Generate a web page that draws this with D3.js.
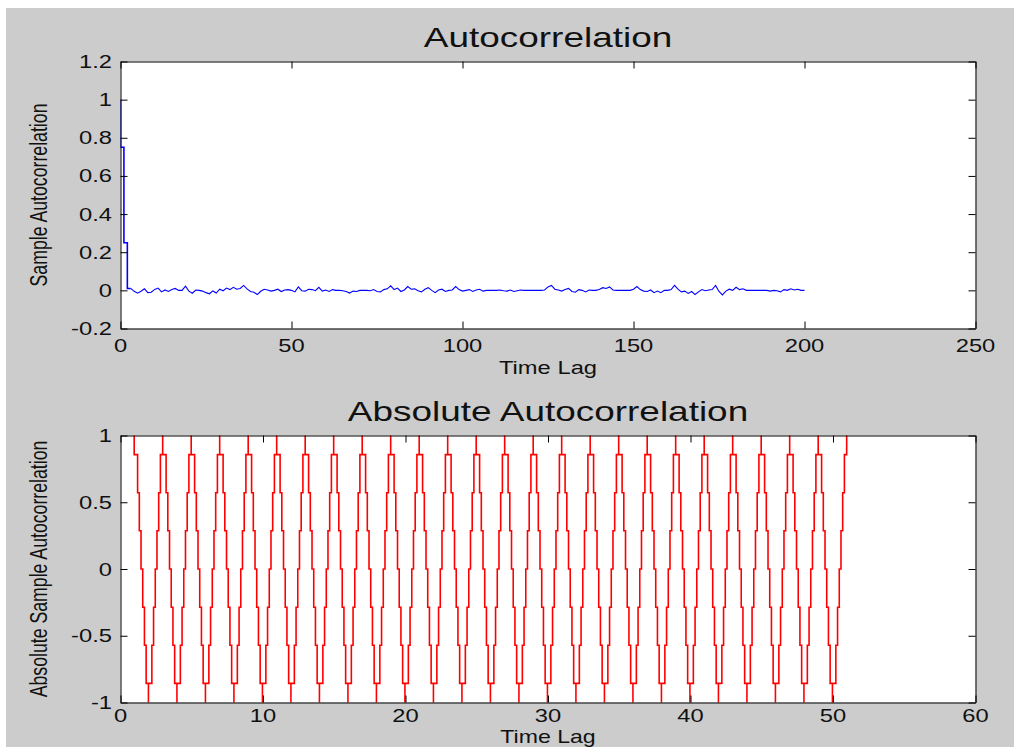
<!DOCTYPE html>
<html>
<head>
<meta charset="utf-8">
<script src="https://cdn.jsdelivr.net/npm/d3@7"></script>
<style>
  html, body { margin: 0; padding: 0; background: #ffffff; }
  svg { display: block; }
  text { font-family: "Liberation Sans", Arial, sans-serif; fill: #111; }
</style>
</head>
<body>
<svg id="chart" width="1014" height="747"></svg>
<script>
// ---------------- DATA ----------------
// Top panel: sample autocorrelation
const headLags   = [0, 1, 2, 3];
const headValues = [1, 0.75, 0.25, 0.01];
const noiseStartLag = 3;
const noiseValues = [
  0.01,
  -0.005, -0.015, -0.005, 0.008, -0.012, -0.01, 0.005, 0.012, -0.008, 0.002,
  -0.006, 0.004, 0.01, 0.0, 0.0, 0.022, -0.004, -0.015, 0.002, 0.0,
  -0.004, -0.012, -0.018, -0.003, -0.014, 0.006, -0.002, 0.012, 0.004, 0.016,
  0.006, 0.01, 0.026, 0.008, -0.006, -0.01, -0.022, -0.005, 0.006, 0.002,
  -0.004, 0.0, 0.006, -0.006, 0.002, 0.004, 0.0, -0.008, 0.018, -0.002,
  -0.004, 0.006, 0.004, -0.002, 0.016, -0.004, 0.002, -0.006, 0.004, 0.0,
  0.0, -0.002, -0.006, -0.014, -0.004, -0.006, 0.0, 0.0, 0.0, -0.002,
  0.004, -0.006, -0.008, 0.004, 0.008, 0.024, 0.004, 0.012, -0.006, 0.002,
  0.02, 0.006, 0.008, -0.002, -0.008, 0.006, 0.014, 0.0, -0.012, 0.002,
  0.006, -0.006, 0.0, 0.002, 0.02, 0.004, -0.004, 0.0, 0.004, -0.006,
  0.002, 0.006, -0.004, 0.0, 0.0, 0.0, 0.0, 0.002, -0.002, -0.004,
  0.002, -0.006, -0.002, 0.002, 0.0, 0.0, 0.0, 0.0, 0.0, 0.0,
  0.002, 0.018, 0.026, 0.006, 0.002, -0.004, 0.004, 0.01, -0.006, -0.01,
  0.004, 0.0, -0.008, 0.002, 0.0, 0.0, 0.004, 0.014, 0.01, 0.018,
  0.002, 0.0, 0.0, 0.0, 0.0, 0.0, 0.006, 0.02, 0.004, -0.004,
  -0.006, 0.002, -0.012, -0.004, -0.012, 0.0, 0.0, 0.004, 0.026, 0.006,
  -0.008, -0.004, -0.016, -0.006, -0.022, -0.008, 0.004, -0.002, 0.002, 0.004,
  0.026, -0.006, -0.024, -0.004, 0.006, 0.0, 0.016, 0.004, 0.008, 0.0,
  0.0, 0.0, 0.0, 0.0, 0.0, 0.0, -0.004, 0.0, -0.002, -0.008,
  0.004, 0.0, 0.008, 0.002, 0.006, 0.0, 0.0
];
const topXTicks = [0, 50, 100, 150, 200, 250];
const topXTickLabels = ["0", "50", "100", "150", "200", "250"];
const topYTicks = [-0.2, 0, 0.2, 0.4, 0.6, 0.8, 1, 1.2];
const topYTickLabels = ["-0.2", "0", "0.2", "0.4", "0.6", "0.8", "1", "1.2"];

// Bottom panel: absolute autocorrelation (stepped zig-zag)
const peakLags   = [1, 3, 5, 7, 9, 11, 13, 15, 17, 19, 21, 23, 25, 27, 29, 31, 33, 35, 37, 39, 41, 43, 45, 47, 49, 51];
const troughLags = [2, 4, 6, 8, 10, 12, 14, 16, 18, 20, 22, 24, 26, 28, 30, 32, 34, 36, 38, 40, 42, 44, 46, 48, 50];
const stepLevels  = [1, 0.857, 0.571, 0.286, 0, -0.286, -0.571, -0.857, -1];
const stepOffsets = [-0.04, 0.2, 0.32, 0.44, 0.56, 0.68, 0.8, 0.96];
const botXTicks = [0, 10, 20, 30, 40, 50, 60];
const botXTickLabels = ["0", "10", "20", "30", "40", "50", "60"];
const botYTicks = [-1, -0.5, 0, 0.5, 1];
const botYTickLabels = ["-1", "-0.5", "0", "0.5", "1"];

const titles = ["Autocorrelation", "Absolute Autocorrelation"];
const xLabels = ["Time Lag", "Time Lag"];
const yLabels = ["Sample Autocorrelation", "Absolute Sample Autocorrelation"];

// ---------------- DRAW ----------------
const SX = 1.32; // horizontal text stretch seen in the reference
const svg = d3.select("#chart");
svg.append("rect").attr("x", 6).attr("y", 8).attr("width", 1008).attr("height", 739).attr("fill", "#cccccc");

const L = 120.5, R = 975.5;
const panels = [
  { top: 61.5, bottom: 328.5, xd: [0, 250], yd: [-0.2, 1.2], xt: topXTicks, xtl: topXTickLabels, yt: topYTicks, ytl: topYTickLabels, tlOff: 23, xlOff: 45, xlSize: 18 },
  { top: 435.5, bottom: 702.5, xd: [0, 60], yd: [-1, 1], xt: botXTicks, xtl: botXTickLabels, yt: botYTicks, ytl: botYTickLabels, tlOff: 19.5, xlOff: 40, xlSize: 17.5 }
];

function stext(g, x, y, str, size, anchor, rot) {
  return g.append("text")
    .attr("transform", `translate(${x},${y}) scale(${SX},1)` + (rot ? " rotate(-90)" : ""))
    .attr("text-anchor", anchor)
    .style("font-size", size + "px")
    .text(str);
}

panels.forEach((p, i) => {
  p.x = d3.scaleLinear().domain(p.xd).range([L, R]);
  p.y = d3.scaleLinear().domain(p.yd).range([p.bottom, p.top]);
  const g = svg.append("g");
  g.append("rect").attr("x", L).attr("y", p.top).attr("width", R - L).attr("height", p.bottom - p.top).attr("fill", "#ffffff");
  p.g = g;
  const clipId = "clip" + i;
  svg.append("clipPath").attr("id", clipId).append("rect")
    .attr("x", L).attr("y", p.top - 1).attr("width", R - L).attr("height", p.bottom - p.top + 2);
  p.plot = g.append("g").attr("clip-path", `url(#${clipId})`);
});

// top panel data
{
  const p = panels[0];
  const head = headLags.map((l, i) => [l, headValues[i]]);
  p.plot.append("path")
    .attr("d", d3.line().x(d => p.x(d[0])).y(d => p.y(d[1])).curve(d3.curveStepBefore)(head))
    .attr("fill", "none").attr("stroke", "#0000ff").attr("stroke-width", 1.6);
  const noise = noiseValues.map((v, i) => [noiseStartLag + i, v]);
  p.plot.append("path")
    .attr("d", d3.line().x(d => p.x(d[0])).y(d => p.y(d[1]))(noise))
    .attr("fill", "none").attr("stroke", "#0000ff").attr("stroke-width", 1.1);
}

// bottom panel data
{
  const p = panels[1];
  const turns = peakLags.map(l => [l, 1]).concat(troughLags.map(l => [l, -1])).sort((a, b) => a[0] - b[0]);
  const pts = [];
  turns.forEach((t, k) => {
    if (k === turns.length - 1) { pts.push([t[0] + stepOffsets[0], t[1]]); pts.push([t[0] + stepOffsets[0], t[1] * stepLevels[1]]); return; }
    const s = t[1];
    for (let j = 0; j < stepOffsets.length; j++) {
      pts.push([t[0] + stepOffsets[j], s * stepLevels[j]]);
      pts.push([t[0] + stepOffsets[j], s * stepLevels[j + 1]]);
    }
  });
  p.plot.append("path")
    .attr("d", d3.line().x(d => p.x(d[0])).y(d => p.y(d[1]))(pts.slice(0, -1)))
    .attr("fill", "none").attr("stroke", "#ff0000").attr("stroke-width", 1.6);
}

// axes, ticks, labels
panels.forEach((p, i) => {
  const g = p.g;
  const tk = 7;
  const ax = (gen, tr) => {
    const a = g.append("g").attr("transform", tr).call(gen);
    a.selectAll("text").remove();
    a.selectAll("path, line").attr("stroke", "#000").attr("stroke-width", 1);
  };
  ax(d3.axisBottom(p.x).tickValues(p.xt).tickSizeInner(-tk).tickSizeOuter(0).tickFormat(""), `translate(0,${p.bottom})`);
  ax(d3.axisTop(p.x).tickValues(p.xt).tickSizeInner(-tk).tickSizeOuter(0).tickFormat(""), `translate(0,${p.top})`);
  ax(d3.axisLeft(p.y).tickValues(p.yt).tickSizeInner(-tk).tickSizeOuter(0).tickFormat(""), `translate(${L},0)`);
  ax(d3.axisRight(p.y).tickValues(p.yt).tickSizeInner(-tk).tickSizeOuter(0).tickFormat(""), `translate(${R},0)`);

  p.xt.forEach((v, k) => stext(g, p.x(v), p.bottom + p.tlOff, p.xtl[k], 18, "middle"));
  p.yt.forEach((v, k) => stext(g, 112, p.y(v) + 6.5, p.ytl[k], 18, "end"));
  stext(g, (L + R) / 2, p.bottom + p.xlOff, xLabels[i], p.xlSize, "middle");
  stext(g, (L + R) / 2, p.top - 15, titles[i], 28, "middle");
  stext(g, 47, (p.top + p.bottom) / 2, yLabels[i], 17.7, "middle", true);
});
</script>
</body>
</html>
